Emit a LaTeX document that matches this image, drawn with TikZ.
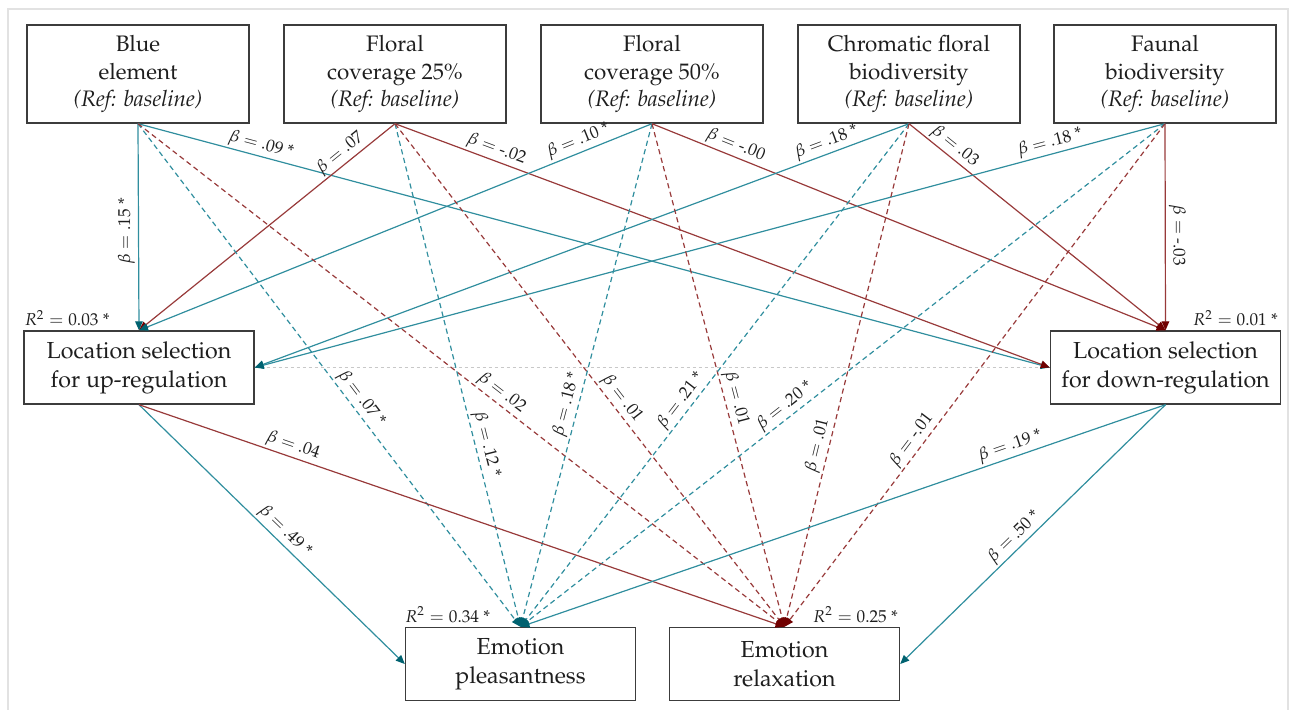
\documentclass[tikz,border=0pt]{standalone}
\usepackage[T1]{fontenc}
\usepackage{mathpazo}
\usetikzlibrary{arrows.meta}

\definecolor{pathteal}{RGB}{48,142,158}
\definecolor{pathred}{RGB}{152,58,58}
\definecolor{tipteal}{RGB}{0,98,112}
\definecolor{tipred}{RGB}{112,0,0}
\definecolor{boxline}{RGB}{60,60,60}
\definecolor{framegray}{RGB}{226,226,226}
\definecolor{linkgray}{RGB}{200,200,200}
\definecolor{inkgray}{RGB}{30,30,30}

\tikzset{
  varbox/.style={draw=boxline, line width=0.7pt, minimum width=111pt, minimum height=49pt,
    align=center, inner sep=0pt, text=inkgray, font=\fontsize{11.2}{13.8}\selectfont},
  midbox/.style={varbox, minimum width=115pt, minimum height=36.5pt,
    font=\fontsize{11.6}{14.5}\selectfont},
  tealpath/.style={draw=pathteal, line width=0.6pt,
    -{Triangle[length=4.5pt,width=3.8pt,color=tipteal]}},
  redpath/.style={draw=pathred, line width=0.6pt,
    -{Triangle[length=4.5pt,width=3.8pt,color=tipred]}},
  indirect/.style={dash pattern=on 2.6pt off 1.8pt},
  coef/.style={sloped, above, inner sep=1pt, font=\fontsize{8.6}{10}\selectfont, text=inkgray},
  coefv/.style={inner sep=1.5pt, font=\fontsize{8.6}{10}\selectfont, text=inkgray},
  rsq/.style={inner sep=0pt, font=\fontsize{8.6}{10}\selectfont, text=inkgray},
}

\begin{document}
\begin{tikzpicture}[x=0.5pt,y=-0.5pt]
\useasboundingbox (0,0) rectangle (1302,709);
\clip (0,0) rectangle (1302,709);
\draw[framegray, line width=1pt] (7.5,8.5) rectangle (1288,720);

% exogenous scene factors
\node[varbox] (blue)  at (138,74)  {Blue\\element\\\textit{(Ref: baseline)}};
\node[varbox] (fc25)  at (395,74)  {Floral\\coverage 25\%\\\textit{(Ref: baseline)}};
\node[varbox] (fc50)  at (652,74)  {Floral\\coverage 50\%\\\textit{(Ref: baseline)}};
\node[varbox] (chrom) at (909,74)  {Chromatic floral\\biodiversity\\\textit{(Ref: baseline)}};
\node[varbox] (faun)  at (1165,74) {Faunal\\biodiversity\\\textit{(Ref: baseline)}};

% mediators
\node[midbox] (up)   at (139,367.5)    {Location selection\\for up-regulation};
\node[midbox] (down) at (1165.5,367.5) {Location selection\\for down-regulation};

% outcomes
\node[midbox] (pleas) at (520.5,664) {Emotion\\pleasantness};
\node[midbox] (relax) at (784.5,664) {Emotion\\relaxation};

% explained variance
\node[rsq, anchor=south west] (r2up)    at ([xshift=0.5pt,yshift=2pt]up.north west)    {$R^2 = 0.03$ *};
\node[rsq, anchor=south east] (r2down)  at ([xshift=-1.5pt,yshift=2pt]down.north east) {$R^2 = 0.01$ *};
\node[rsq, anchor=south west] (r2pleas) at ([xshift=0pt,yshift=2pt]pleas.north west)   {$R^2 = 0.34$ *};
\node[rsq, anchor=south east] (r2relax) at ([xshift=-1pt,yshift=2pt]relax.north east)  {$R^2 = 0.25$ *};

% residual covariance between the mediators
\draw[linkgray, line width=0.5pt, dash pattern=on 1.5pt off 1.5pt] (up.east) -- (down.west);

% factors -> mediators
\draw[tealpath] (blue.south) -- node[coefv, pos=0.52, rotate=90, anchor=south] {$\beta =$ .15 *} (up.north);
\draw[tealpath] (blue.south) -- node[coef, pos=0.132] {$\beta =$ .09 *} (down.west);
\draw[redpath]  (fc25.south) -- node[coef, pos=0.186] {$\beta =$ .07} (up.north);
\draw[redpath]  (fc25.south) -- node[coef, pos=0.149] {$\beta =$ -.02} (down.west);
\draw[tealpath] (fc50.south) -- node[coef, pos=0.135] {$\beta =$ .10 *} (up.north);
\draw[redpath]  (fc50.south) -- node[coef, pos=0.155] {$\beta =$ -.00} (down.north);
\draw[tealpath] (chrom.south) -- node[coef, pos=0.12] {$\beta =$ .18 *} (up.east);
\draw[redpath]  (chrom.south) -- node[coef, pos=0.151] {$\beta =$ .03} (down.north);
\draw[tealpath] (faun.south) -- node[coef, pos=0.123] {$\beta =$ .18 *} (up.east);
\draw[redpath]  (faun.south) -- node[coefv, pos=0.54, rotate=-90, anchor=south] {$\beta =$ -.03} (down.north);

% factors -> outcomes
\draw[tealpath, indirect] (blue.south)  -- node[coef, pos=0.56]  {$\beta =$ .07 *} (pleas.north);
\draw[redpath,  indirect] (blue.south)  -- node[coef, pos=0.552] {$\beta =$ .02}   (relax.north);
\draw[tealpath, indirect] (fc25.south)  -- node[coef, pos=0.643] {$\beta =$ .12 *} (pleas.north);
\draw[redpath,  indirect] (fc25.south)  -- node[coef, pos=0.56]  {$\beta =$ .01}   (relax.north);
\draw[tealpath, indirect] (fc50.south)  -- node[coef, pos=0.564] {$\beta =$ .18 *} (pleas.north);
\draw[redpath,  indirect] (fc50.south)  -- node[coef, pos=0.552] {$\beta =$ .01}   (relax.north);
\draw[tealpath, indirect] (chrom.south) -- node[coef, pos=0.564] {$\beta =$ .21 *} (pleas.north);
\draw[redpath,  indirect] (chrom.south) -- node[coef, pos=0.645] {$\beta =$ .01}   (relax.north);
\draw[tealpath, indirect] (faun.south)  -- node[coef, pos=0.579] {$\beta =$ .20 *} (pleas.north);
\draw[redpath,  indirect] (faun.south)  -- node[coef, pos=0.642] {$\beta =$ -.01}  (relax.north);

% mediators -> outcomes
\draw[tealpath] (up.south)   -- node[coef, pos=0.52]  {$\beta =$ .49 *} (pleas.west);
\draw[redpath]  (up.south)   -- node[coef, pos=0.233] {$\beta =$ .04}   (relax.north);
\draw[tealpath] (down.south) -- node[coef, pos=0.235] {$\beta =$ .19 *} (pleas.north);
\draw[tealpath] (down.south) -- node[coef, pos=0.54]  {$\beta =$ .50 *} (relax.east);
\end{tikzpicture}
\end{document}
